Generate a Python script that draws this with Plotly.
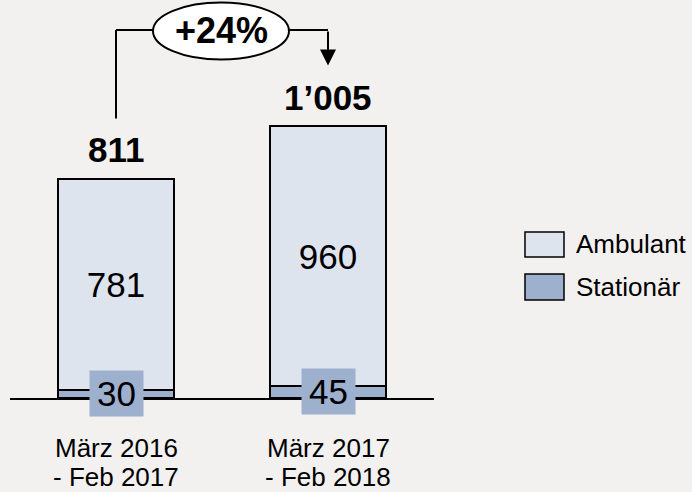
import plotly.graph_objects as go

categories = ["März 2016<br>- Feb 2017", "März 2017<br>- Feb 2018"]
series_names = ["Ambulant", "Stationär"]
ambulant = [781, 960]
stationaer = [30, 45]

colors = {"Ambulant": "#DEE4EE", "Stationär": "#9DB0CE"}
bg = "#F2F1EF"
FONT = "Liberation Sans, Arial, sans-serif"

totals = [a + s for a, s in zip(ambulant, stationaer)]


def fmt(v):
    return f"{v:,}".replace(",", "\u2019")


growth = round((totals[1] / totals[0] - 1) * 100)

xs = [0, 1]
fig = go.Figure()
fig.add_trace(go.Bar(
    x=xs, y=stationaer, name="Stationär", width=0.55,
    marker=dict(color=colors["Stationär"], line=dict(color="black", width=2)),
    showlegend=False, hoverinfo="skip",
))
fig.add_trace(go.Bar(
    x=xs, y=ambulant, name="Ambulant", width=0.55,
    marker=dict(color=colors["Ambulant"], line=dict(color="black", width=2)),
    text=[str(v) for v in ambulant], textposition="inside", insidetextanchor="middle",
    textfont=dict(size=35, color="black", family=FONT), textangle=0,
    showlegend=False, hoverinfo="skip",
))

annotations = []
# totals above bars
for x, t in zip(xs, totals):
    annotations.append(dict(x=x, y=t, xref="x", yref="y", text=f"<b>{fmt(t)}</b>",
                            showarrow=False, yanchor="middle", yshift=29,
                            font=dict(size=35, color="black", family=FONT)))
# stationär labels in boxes
for x, s in zip(xs, stationaer):
    annotations.append(dict(x=x, y=s / 2, xref="x", yref="y", text=str(s),
                            showarrow=False, bgcolor=colors["Stationär"],
                            width=53, height=45, borderpad=0,
                            font=dict(size=35, color="black", family=FONT)))

# category labels (two lines each)
line_y = [-0.1256, -0.1985]
for x, cat in zip(xs, categories):
    for ly, part in zip(line_y, cat.split("<br>")):
        annotations.append(dict(x=x, y=ly, xref="x", yref="paper", text=part,
                                showarrow=False, yanchor="middle",
                                font=dict(size=26, color="black", family=FONT)))

# growth bracket
top_y = 1360
left_start = 1033
tip_y = 1229
shapes = [
    dict(type="line", xref="x", yref="y", x0=0, x1=0, y0=left_start, y1=top_y,
         line=dict(color="black", width=2)),
    dict(type="line", xref="x", yref="y", x0=0, x1=1, y0=top_y, y1=top_y,
         line=dict(color="black", width=2)),
    dict(type="circle", xref="x", yref="y", x0=0.1745, x1=0.816, y0=1251, y1=1462,
         fillcolor="white", line=dict(color="black", width=2)),
]
annotations.append(dict(x=1, y=tip_y, xref="x", yref="y", ax=1, ay=top_y,
                        axref="x", ayref="y", text="", showarrow=True,
                        arrowhead=2, arrowsize=1.6, arrowwidth=2, arrowcolor="black"))
annotations.append(dict(x=0.4953, y=(1251 + 1462) / 2, xref="x", yref="y",
                        text=f"<b>+{growth}%</b>", showarrow=False,
                        font=dict(size=36, color="black", family=FONT)))

# manual legend
legend_boxes = {"Ambulant": (0.4171, 0.3543), "Stationär": (0.3116, 0.2462)}
for name in series_names:
    y1, y0 = legend_boxes[name]
    shapes.append(dict(type="rect", xref="paper", yref="paper", x0=1.2146, x1=1.3066,
                       y0=y0, y1=y1, fillcolor=colors[name],
                       line=dict(color="black", width=1.5)))
    annotations.append(dict(x=1.3302, y=(y0 + y1) / 2, xref="paper", yref="paper",
                            text=name, showarrow=False, xanchor="left", yanchor="middle",
                            font=dict(size=26, color="black", family=FONT)))

fig.update_layout(
    barmode="stack",
    width=692, height=492,
    margin=dict(l=10, r=258, t=0, b=94, autoexpand=False),
    paper_bgcolor=bg, plot_bgcolor=bg,
    shapes=shapes, annotations=annotations,
    font=dict(family=FONT, color="black"),
    bargap=0,
)
fig.update_xaxes(range=[-0.5, 1.5], tickvals=xs, ticktext=["", ""],
                 showline=True, linecolor="black", linewidth=2, ticks="",
                 showgrid=False, zeroline=False)
fig.update_yaxes(range=[0, 1471], visible=False, showgrid=False, zeroline=False)

fig.write_html("out.html", config={"displayModeBar": False},
               post_script="document.body.style.margin='0';document.body.style.overflow='hidden';")
